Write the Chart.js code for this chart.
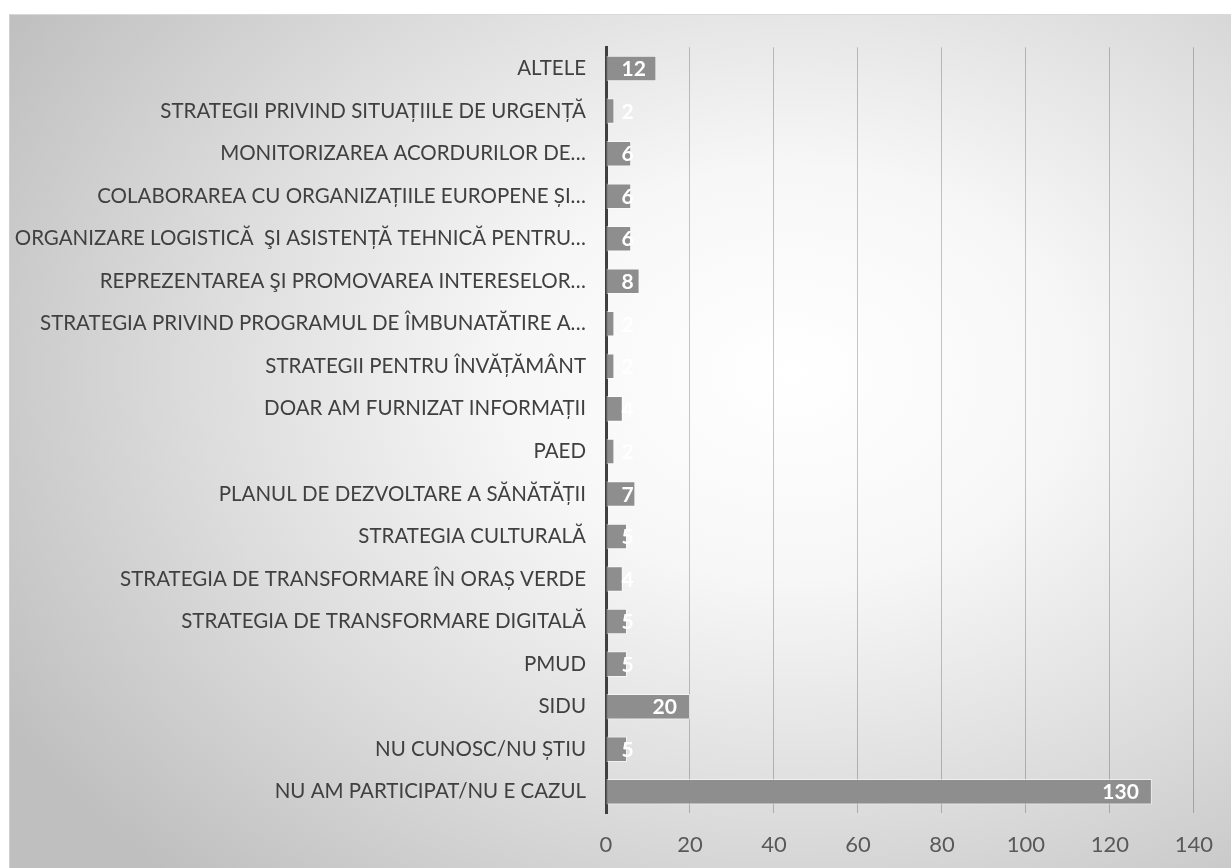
<!DOCTYPE html>
<html>
<head>
<meta charset="utf-8">
<script src="https://cdn.jsdelivr.net/npm/chart.js@4/dist/chart.umd.min.js"></script>
<style>
  html, body { margin: 0; padding: 0; background: #ffffff; }
  #wrap {
    position: absolute; left: 9px; top: 14px; width: 1222px; height: 854px;
    background: radial-gradient(ellipse 75% 80% at 64% 42%, #ffffff 0%, #f7f7f7 30%, #dcdcdc 65%, #bfbfbf 100%);
    border-top: 1px solid #d9d9d9; border-left: 1px solid #d0d0d0;
  }
</style>
</head>
<body>
<div id="wrap"><canvas id="chart"></canvas></div>
<script>
// categorii (de sus in jos, ca in grafic)
const categories = [
  'ALTELE',
  'STRATEGII PRIVIND SITUAȚIILE DE URGENȚĂ',
  'MONITORIZAREA ACORDURILOR DE…',
  'COLABORAREA CU ORGANIZAȚIILE EUROPENE ȘI…',
  'ORGANIZARE LOGISTICĂ  ŞI ASISTENȚĂ TEHNICĂ PENTRU…',
  'REPREZENTAREA ŞI PROMOVAREA INTERESELOR…',
  'STRATEGIA PRIVIND PROGRAMUL DE ÎMBUNATĂTIRE A…',
  'STRATEGII PENTRU ÎNVĂȚĂMÂNT',
  'DOAR AM FURNIZAT INFORMAȚII',
  'PAED',
  'PLANUL DE DEZVOLTARE A SĂNĂTĂȚII',
  'STRATEGIA CULTURALĂ',
  'STRATEGIA DE TRANSFORMARE ÎN ORAȘ VERDE',
  'STRATEGIA DE TRANSFORMARE DIGITALĂ',
  'PMUD',
  'SIDU',
  'NU CUNOSC/NU ȘTIU',
  'NU AM PARTICIPAT/NU E CAZUL'
];
const values = [12, 2, 6, 6, 6, 8, 2, 2, 4, 2, 7, 5, 4, 5, 5, 20, 5, 130];
const xTicks = [0, 20, 40, 60, 80, 100, 120, 140];

// etichete albe la capatul barelor
const endLabels = {
  id: 'endLabels',
  afterDatasetsDraw(chart) {
    const ctx = chart.ctx;
    const meta = chart.getDatasetMeta(0);
    ctx.save();
    ctx.font = 'bold 21px Lato';
    ctx.fillStyle = '#ffffff';
    ctx.textBaseline = 'middle';
    ctx.textAlign = 'left';
    meta.data.forEach((bar, i) => {
      const txt = String(values[i]);
      const w = ctx.measureText(txt).width;
      const x = Math.max(bar.base + 15, bar.x - 13 - w);
      ctx.fillText(txt, x, bar.y + 1);
    });
    ctx.restore();
  }
};

new Chart(document.getElementById('chart'), {
  type: 'bar',
  data: {
    labels: categories,
    datasets: [{
      data: values,
      backgroundColor: '#8e8e8e',
      borderColor: 'rgba(255,255,255,0.55)',
      borderWidth: 1,
      borderSkipped: false,
      categoryPercentage: 1,
      barPercentage: 0.6
    }]
  },
  options: {
    indexAxis: 'y',
    responsive: true,
    maintainAspectRatio: false,
    animation: false,
    layout: { padding: { top: 29, right: 37, left: 0, bottom: 0 } },
    plugins: { legend: { display: false }, tooltip: { enabled: false } },
    scales: {
      x: {
        min: 0, max: 140,
        afterBuildTicks(axis) { axis.ticks = xTicks.map(v => ({ value: v })); },
        afterFit(axis) { axis.height = 56; },
        grid: { color: 'rgba(0,0,0,0.22)', drawTicks: false },
        border: { display: false },
        ticks: { padding: 19, color: '#595959', font: { family: 'Lato', size: 22 } }
      },
      y: {
        afterFit(axis) { axis.width = 596; },
        grid: { display: false, drawTicks: false },
        border: { display: true, color: '#404040', width: 3 },
        ticks: { padding: 20, color: '#404040', autoSkip: false, font: { family: 'Lato', size: 20.5 } }
      }
    }
  },
  plugins: [endLabels]
});
</script>
</body>
</html>
